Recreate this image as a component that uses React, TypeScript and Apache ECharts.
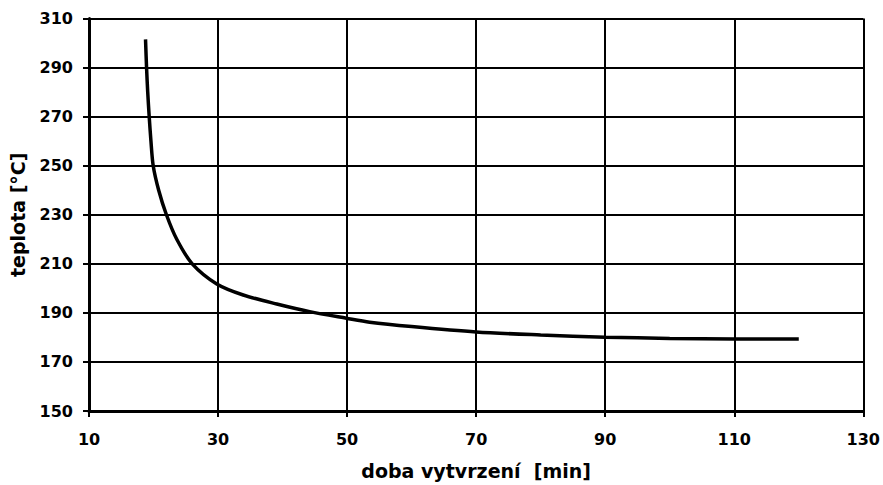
import React, { useEffect, useRef } from "react";
import * as echarts from "echarts";

const xValues = [18.76, 18.92, 19.1, 19.33, 19.6, 19.95, 20.8, 22.0, 23.6, 26.0, 29.8, 33.9, 39.1, 44.2, 49.9, 53.5, 60, 70, 80, 90, 100, 110, 120];
const yValues = [301.5, 290, 280, 270, 260, 250, 240, 230, 220, 210, 201.8, 197.3, 193.6, 190.5, 187.8, 186.2, 184.4, 182.2, 181, 180.1, 179.6, 179.4, 179.3];
const xTicks = [10, 30, 50, 70, 90, 110, 130];
const yTicks = [150, 170, 190, 210, 230, 250, 270, 290, 310];

export default function App() {
  const ref = useRef<HTMLDivElement>(null);
  useEffect(() => {
    if (!ref.current) return;
    const chart = echarts.init(ref.current, null, { renderer: "svg" });
    const font = "DejaVu Sans";
    chart.setOption({
      animation: false,
      backgroundColor: "#ffffff",
      grid: { left: 89, right: 18, top: 18.5, bottom: 72, containLabel: false },
      xAxis: {
        type: "value",
        min: xTicks[0],
        max: xTicks[xTicks.length - 1],
        interval: 20,
        name: "doba vytvrzení  [min]",
        nameLocation: "middle",
        nameGap: 50,
        nameTextStyle: { color: "#000", fontFamily: font, fontWeight: "bold", fontSize: 19 },
        axisLine: { show: true, lineStyle: { color: "#000", width: 3 } },
        axisTick: { show: true, length: 6, lineStyle: { color: "#000", width: 2 } },
        axisLabel: { color: "#000", fontFamily: font, fontWeight: "bold", fontSize: 16, margin: 20 },
        splitLine: { show: true, lineStyle: { color: "#000", width: 2 } },
      },
      yAxis: {
        type: "value",
        min: yTicks[0],
        max: yTicks[yTicks.length - 1],
        interval: 20,
        name: "teplota [°C]",
        nameLocation: "middle",
        nameGap: 62,
        nameTextStyle: { color: "#000", fontFamily: font, fontWeight: "bold", fontSize: 19 },
        axisLine: { show: true, lineStyle: { color: "#000", width: 3 } },
        axisTick: { show: true, length: 6, lineStyle: { color: "#000", width: 2 } },
        axisLabel: { color: "#000", fontFamily: font, fontWeight: "bold", fontSize: 16, margin: 16 },
        splitLine: { show: true, lineStyle: { color: "#000", width: 2 } },
      },
      series: [
        {
          type: "line",
          data: xValues.map((x, i) => [x, yValues[i]]),
          smooth: 0.3,
          showSymbol: false,
          lineStyle: { color: "#000", width: 3.5 },
        },
      ],
    });
    return () => chart.dispose();
  }, []);
  return (
    <div
      ref={ref}
      style={{ position: "fixed", left: 0, top: 0, width: 883, height: 485, background: "#fff" }}
    />
  );
}
